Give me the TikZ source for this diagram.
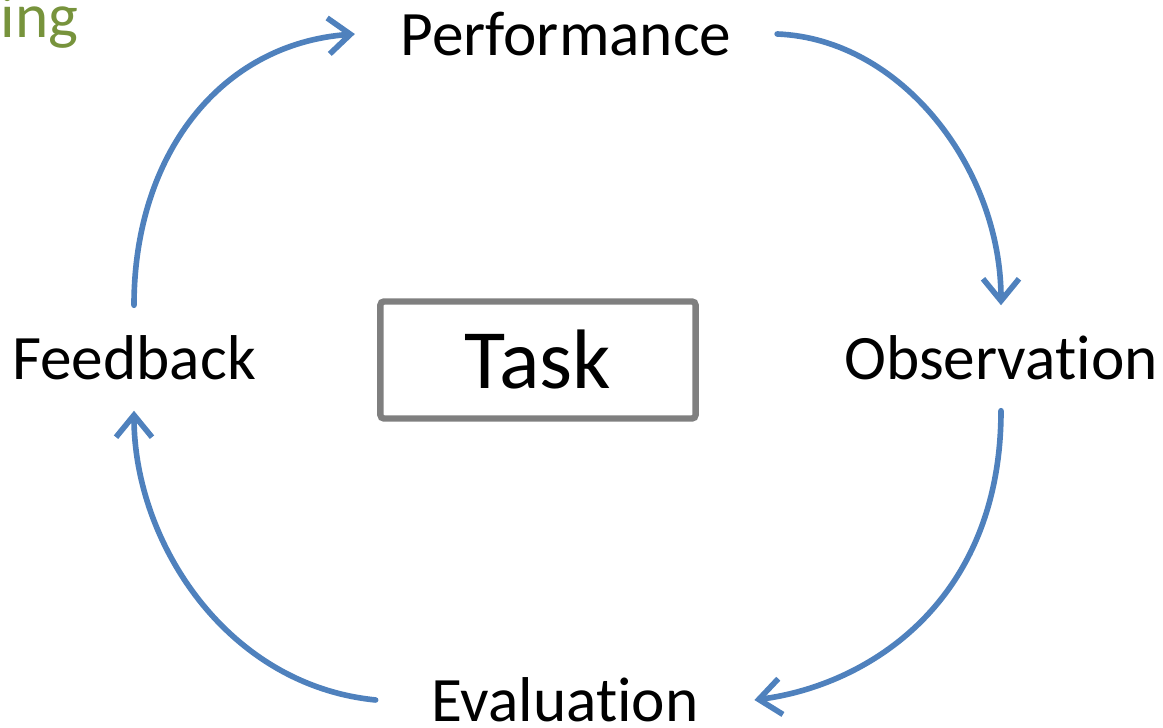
\documentclass[tikz,border=0pt]{standalone}
\usepackage{fontspec}
\setmainfont{Carlito}[Ligatures=NoCommon]
\usetikzlibrary{arrows.meta}
\definecolor{cyclo}{RGB}{79,129,189}
\definecolor{boxgray}{RGB}{127,127,127}
\definecolor{titlegreen}{RGB}{119,147,60}
\begin{document}
\begin{tikzpicture}[x=0.01cm, y=-0.01cm, >={Straight Barb[length=2.2mm,width=3.6mm]},
  stage/.style={font=\fontsize{18}{22}\selectfont, inner xsep=0.45cm, inner ysep=0pt, minimum height=1.04cm},
  loop/.style={->, draw=cyclo, line width=1.6pt, line cap=round}]
\useasboundingbox (0,0) rectangle (1163,728);
% Titulo
\node[anchor=base west, inner sep=0pt, text=titlegreen, font=\fontsize{18}{22}\selectfont] (title) at (0,38) {ing};
% Centro
\node[draw=boxgray, line width=1.8pt, rounded corners=1pt, minimum width=3.15cm, minimum height=1.17cm, font=\fontsize{24}{29}\selectfont] (task) at (538,360) {Task};
% Etapas
\node[stage] (perf) at (566,34) {Performance};
\node[stage] (obs) at (1001,358) {Observation};
\node[stage, inner xsep=0.55cm] (eval) at (565,700) {Evaluation};
\node[stage] (feed) at (134,358) {Feedback};
% Setas
\draw[loop] (feed.north) .. controls +(0,-150) and +(-135,10) .. (perf.west);
\draw[loop] (perf.east) .. controls +(125,5) and +(0,-136) .. (obs.north);
\draw[loop] (obs.south) .. controls +(0,190) and +(115,-15) .. (eval.east);
\draw[loop] (eval.west) .. controls +(-150,-15) and +(0,130) .. (feed.south);
\end{tikzpicture}
\end{document}
